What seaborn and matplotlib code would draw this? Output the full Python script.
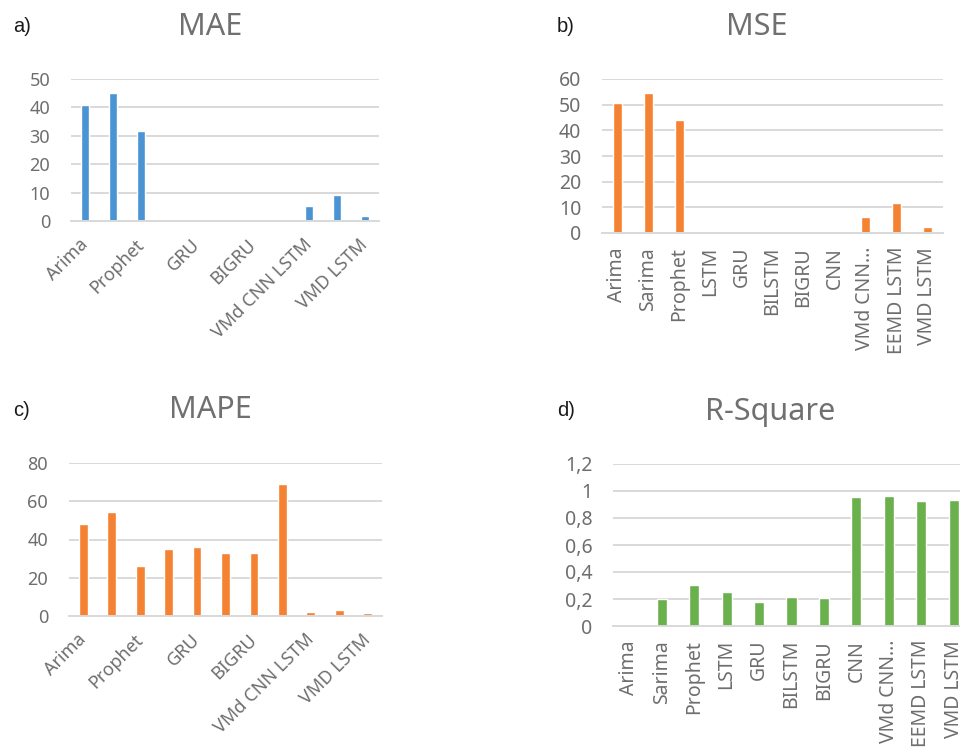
import matplotlib
matplotlib.use("Agg")
import matplotlib.pyplot as plt
import seaborn as sns

# model names (same order in every panel)
models = ['Arima', 'Sarima', 'Prophet', 'LSTM', 'GRU', 'BILSTM', 'BIGRU', 'CNN',
          'VMd CNN LSTM', 'EEMD LSTM', 'VMD LSTM']
short_labels = ['Arima', 'Sarima', 'Prophet', 'LSTM', 'GRU', 'BILSTM', 'BIGRU', 'CNN',
                'VMd CNN…', 'EEMD LSTM', 'VMD LSTM']

mae = [40.9, 45.0, 31.7, 0.1, 0.1, 0.1, 0.1, 0.1, 5.4, 9.1, 1.9]
mse = [50.5, 54.5, 43.9, 0.15, 0.15, 0.15, 0.15, 0.15, 6.3, 11.7, 2.3]
mape = [48.3, 54.3, 26.1, 35.0, 36.0, 33.0, 32.7, 69.0, 2.1, 3.3, 1.6]
r2 = [0.0, 0.198, 0.302, 0.252, 0.176, 0.215, 0.21, 0.955, 0.963, 0.923, 0.936]

r2_ticks = [0, 0.2, 0.4, 0.6, 0.8, 1.0, 1.2]
r2_ticklabels = ['0', '0,2', '0,4', '0,6', '0,8', '1', '1,2']

blue = '#4A94D3'
orange = '#F48232'
green = '#6AB04C'
grid_col = '#D9D9D9'
text_col = '#6E6E6E'

sns.set_theme(style="white")
plt.rcParams['font.family'] = ['Noto Sans', 'DejaVu Sans']

W, H = 960, 751
fig = plt.figure(figsize=(9.6, 7.51), dpi=100)


def box(left, right, top, bottom):
    return [left / W, 1 - bottom / H, (right - left) / W, (bottom - top) / H]


def panel(rect, values, color, ymax, step, every_other, labels, fs):
    ax = fig.add_axes(rect)
    sns.barplot(x=models, y=values, color=color, width=0.31, saturation=1,
                ax=ax, order=models)
    ax.set_xlim(-0.5, len(models) - 0.5)
    ax.set_ylim(0, ymax)
    ax.set_yticks([i * step for i in range(int(round(ymax / step)) + 1)])
    ax.yaxis.grid(True, color=grid_col, linewidth=1.4)
    ax.set_axisbelow(True)
    for s in ['top', 'right', 'left']:
        ax.spines[s].set_visible(False)
    ax.spines['bottom'].set_color(grid_col)
    ax.spines['bottom'].set_linewidth(1.4)
    ax.tick_params(axis='y', length=0, pad=15, labelsize=fs, labelcolor=text_col)
    ax.tick_params(axis='x', length=0, labelsize=fs, labelcolor=text_col)
    ax.set_xlabel('')
    ax.set_ylabel('')
    if every_other:
        pos = list(range(0, len(models), 2))
        ax.set_xticks(pos)
        ax.set_xticklabels([labels[i] for i in pos], rotation=45, ha='right',
                           va='center', rotation_mode='anchor')
        ax.tick_params(axis='x', pad=15)
    else:
        ax.set_xticks(range(len(models)))
        ax.set_xticklabels(labels, rotation=90, ha='center', va='top')
        ax.tick_params(axis='x', pad=10)
    return ax


panel(box(71, 379, 79, 221), mae, blue, 50, 10, True, models, 13)
panel(box(602, 943, 79, 233), mse, orange, 60, 10, False, short_labels, 14)
panel(box(69, 382, 463, 616), mape, orange, 80, 20, True, models, 13)
ax_d = panel(box(613, 970, 464, 626), r2, green, 1.2, 0.2, False, short_labels, 14)
ax_d.set_yticks(r2_ticks)
ax_d.set_yticklabels(r2_ticklabels)

titles = [('MAE', 210, 27), ('MSE', 757, 27), ('MAPE', 210, 410), ('R-Square', 770, 412)]
for t, x, y in titles:
    fig.text(x / W, 1 - y / H, t, ha='center', va='center', fontsize=22,
             color='#707070')

letters = [('a)', 13, 27), ('b)', 557, 27), ('c)', 13, 410), ('d)', 557, 410)]
for t, x, y in letters:
    fig.text(x / W, 1 - y / H, t, ha='left', va='center', fontsize=14.5,
             color='#1A1A1A', family=['Liberation Sans', 'DejaVu Sans'])

fig.savefig('out.png', dpi=100)
